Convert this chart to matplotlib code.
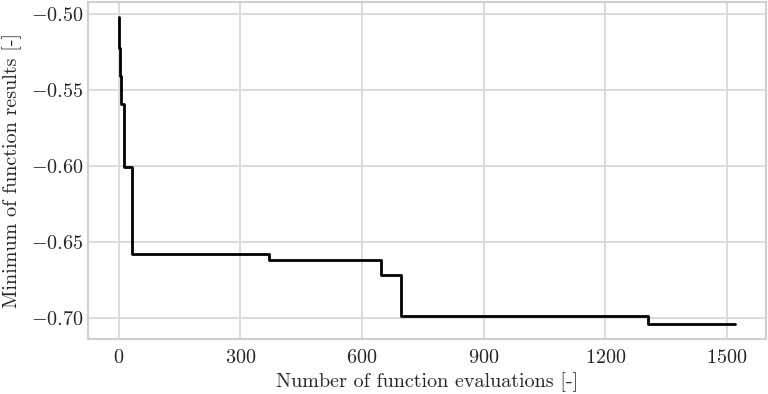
import matplotlib
matplotlib.use("Agg")
import matplotlib.pyplot as plt
import seaborn as sns

# best-so-far minimum of the objective, changes at these evaluation counts
n_evals = [0, 1, 2, 5, 12, 33, 370, 646, 695, 1306, 1520]
best_value = [-0.502, -0.522, -0.541, -0.5588, -0.6005, -0.6574,
              -0.6618, -0.6715, -0.6986, -0.7035, -0.7035]

x_ticks = [0, 300, 600, 900, 1200, 1500]
y_ticks = [-0.50, -0.55, -0.60, -0.65, -0.70]

sns.set_style("whitegrid")
plt.rcParams['font.family'] = 'serif'
plt.rcParams['font.serif'] = ['cmr10']
plt.rcParams['mathtext.fontset'] = 'cm'
plt.rcParams['axes.formatter.use_mathtext'] = True
plt.rcParams['axes.unicode_minus'] = True

fig = plt.figure(figsize=(7.68, 3.94), dpi=100)
ax = fig.add_axes([0.1146, 0.1396, 0.8828, 0.8558])

ax.step(n_evals, best_value, where='post', color='black', linewidth=2)

ax.set_xticks(x_ticks)
ax.set_yticks(y_ticks)
ax.set_yticklabels([f"$-{abs(v):.2f}$" for v in y_ticks])
ax.set_xticklabels([f"${v}$" for v in x_ticks])
ax.tick_params(labelsize=14.5, length=0)
ax.tick_params(axis='x', pad=7)
ax.set_xlabel('Number of function evaluations [-]', fontsize=14.5, labelpad=4)
ax.set_ylabel('Minimum of function results [-]', fontsize=14.5, labelpad=6)

for s in ax.spines.values():
    s.set_color('#d0d0d0')
    s.set_linewidth(1.5)
ax.grid(True, color='#d9d9d9', linewidth=1.3)

plt.savefig('out.png', dpi=100)
